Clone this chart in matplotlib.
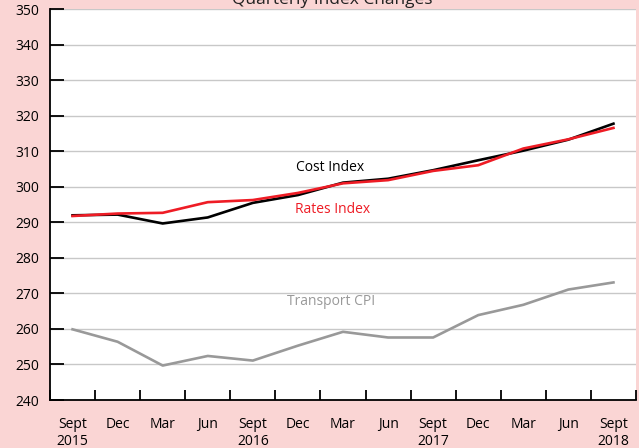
import matplotlib
matplotlib.use("Agg")
import matplotlib.pyplot as plt
import numpy as np

plt.rcParams['font.family'] = ['Open Sans', 'DejaVu Sans']

quarters = ["Sept\n2015", "Dec", "Mar", "Jun", "Sept\n2016", "Dec", "Mar", "Jun",
            "Sept\n2017", "Dec", "Mar", "Jun", "Sept\n2018"]
cost_index = [292.0, 292.2, 289.7, 291.4, 295.5, 297.7, 301.2, 302.3, 304.7, 307.5, 310.2, 313.3, 317.8]
rates_index = [291.8, 292.5, 292.7, 295.7, 296.3, 298.3, 301.0, 301.9, 304.5, 306.1, 310.8, 313.4, 316.6]
transport_cpi = [259.9, 256.4, 249.7, 252.4, 251.1, 255.3, 259.2, 257.6, 257.6, 263.9, 266.8, 271.1, 273.1]
yticks = [240, 250, 260, 270, 280, 290, 300, 310, 320, 330, 340, 350]

bg = '#fad5d4'
W, H = 639, 448
fig = plt.figure(figsize=(W / 100, H / 100), dpi=100, facecolor=bg)
ax = fig.add_axes([50 / W, (H - 400) / H, (636 - 50) / W, (400 - 9.3) / H])
ax.set_facecolor('white')

x = np.arange(len(quarters))
ax.set_xlim(-0.5, len(quarters) - 0.5)
ax.set_ylim(240, 350)

for v in yticks[1:]:
    ax.axhline(v, color='#c8c8c8', lw=1.0, zorder=1)

ax.plot(x, transport_cpi, color='#999999', lw=1.9, zorder=3)
ax.plot(x, cost_index, color='black', lw=1.9, zorder=3)
ax.plot(x, rates_index, color='#ee1c25', lw=1.9, zorder=4)

ax.text(5.72, 305.5, "Cost Index", color='black', fontsize=10, ha='center', va='center')
ax.text(5.77, 293.7, "Rates Index", color='#ee1c25', fontsize=10, ha='center', va='center')
ax.text(5.74, 267.6, "Transport CPI", color='#999999', fontsize=10, ha='center', va='center')

for s in ['top', 'right']:
    ax.spines[s].set_visible(False)
for s in ['left', 'bottom']:
    ax.spines[s].set_color('black')
    ax.spines[s].set_linewidth(1.3)

ax.set_yticks(yticks)
ax.set_yticklabels([str(v) for v in yticks])
ax.tick_params(axis='y', direction='in', length=10, width=1.3, color='black',
               labelsize=10, pad=8)

ax.set_xticks(x)
ax.set_xticklabels(quarters, fontsize=10, linespacing=1.25)
ax.tick_params(axis='x', which='major', length=0, pad=12)
ax.set_xticks(np.arange(-0.5, len(quarters)), minor=True)
ax.tick_params(axis='x', which='minor', direction='in', length=7.5, width=1.3, color='black')

fig.text(332 / W, (H - 4) / H, "Quarterly Index Changes", fontsize=12.5,
         ha='center', va='baseline', color='#222222')

fig.savefig('out.png', dpi=100, facecolor=bg)
